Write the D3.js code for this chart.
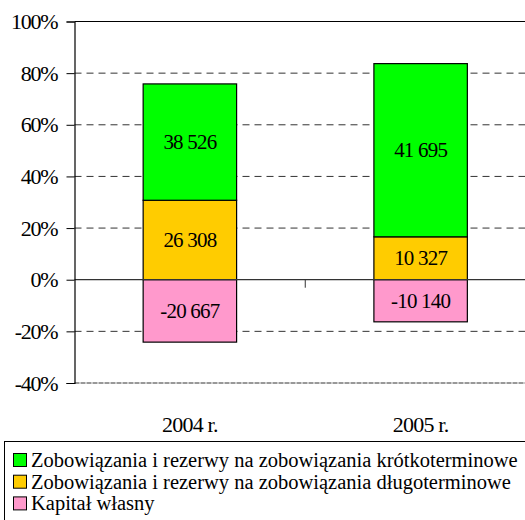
<!DOCTYPE html>
<html>
<head>
<meta charset="utf-8">
<script src="https://cdn.jsdelivr.net/npm/d3@7"></script>
</head>
<body style="margin:0">
<script>
const years = ['2004 r.', '2005 r.'];
const krotkoterminowe = [38526, 41695];
const dlugoterminowe = [26308, 10327];
const kapitalWlasny = [-20667, -10140];
const yTicks = [-40, -20, 0, 20, 40, 60, 80, 100];
const legendLabels = [
  'Zobowiązania i rezerwy na zobowiązania krótkoterminowe',
  'Zobowiązania i rezerwy na zobowiązania długoterminowe',
  'Kapitał własny'
];
const colors = ['#00ff00', '#ffcc00', '#ff99cc'];

const FONT = "'Liberation Serif', 'Times New Roman', serif";
const W = 525, H = 520;
const svg = d3.select('body').append('svg')
  .attr('width', W)
  .attr('height', H);

// percentage share of each part in the sum of absolute values
const rows = years.map((yr, i) => {
  const total = Math.abs(krotkoterminowe[i]) + Math.abs(dlugoterminowe[i]) + Math.abs(kapitalWlasny[i]);
  const d = dlugoterminowe[i] / total * 100;
  const k = krotkoterminowe[i] / total * 100;
  const c = kapitalWlasny[i] / total * 100;
  return {
    year: yr,
    parts: [
      { v: dlugoterminowe[i], y0: 0, y1: d, color: colors[1] },
      { v: krotkoterminowe[i], y0: d, y1: d + k, color: colors[0] },
      { v: kapitalWlasny[i], y0: c, y1: 0, color: colors[2] }
    ]
  };
});

const left = 74.5;
const x = d3.scaleBand().domain(years).range([left, 536]).padding(0);
const y = d3.scaleLinear().domain([-40, 100]).range([383, 21.5]);
const barW = x.bandwidth() * 0.405;

const fmt = d3.formatLocale({ decimal: ',', thousands: ' ', grouping: [3], currency: ['', ''], minus: '-' }).format(',d');

// gridlines
svg.append('g')
  .selectAll('line')
  .data(yTicks.filter(t => t !== 0 && t !== 100))
  .enter()
  .append('line')
  .attr('x1', left).attr('x2', W)
  .attr('y1', d => y(d)).attr('y2', d => y(d))
  .attr('stroke', '#333')
  .attr('stroke-width', 1)
  .attr('stroke-dasharray', d => d === -40 ? '5,1' : '7,5');

// top border
svg.append('line')
  .attr('x1', left).attr('x2', W)
  .attr('y1', y(100)).attr('y2', y(100))
  .attr('stroke', '#000');

// bars
const bars = svg.append('g')
  .selectAll('g')
  .data(rows)
  .enter()
  .append('g');

bars.selectAll('rect')
  .data(d => d.parts.map(p => Object.assign({ year: d.year }, p)))
  .enter()
  .append('rect')
  .attr('x', d => x(d.year) + x.bandwidth() / 2 - barW / 2)
  .attr('width', barW)
  .attr('y', d => y(d.y1))
  .attr('height', d => y(d.y0) - y(d.y1))
  .attr('fill', d => d.color)
  .attr('stroke', '#000')
  .attr('stroke-width', 1.2);

bars.selectAll('text')
  .data(d => d.parts.map(p => Object.assign({ year: d.year }, p)))
  .enter()
  .append('text')
  .attr('x', d => x(d.year) + x.bandwidth() / 2)
  .attr('y', d => (y(d.y0) + y(d.y1)) / 2)
  .attr('dy', '0.34em')
  .attr('text-anchor', 'middle')
  .attr('font-family', FONT)
  .attr('font-size', 21)
  .attr('letter-spacing', -0.8)
  .text(d => fmt(d.v));

// zero line with category tick
svg.append('line')
  .attr('x1', left).attr('x2', W)
  .attr('y1', y(0)).attr('y2', y(0))
  .attr('stroke', '#333')
  .attr('stroke-width', 1.2);
svg.append('line')
  .attr('x1', x(years[1])).attr('x2', x(years[1]))
  .attr('y1', y(0)).attr('y2', y(0) + 8)
  .attr('stroke', '#333');

// y axis
const yAxis = svg.append('g')
  .attr('transform', 'translate(' + left + ',0)')
  .call(d3.axisLeft(y).tickValues(yTicks).tickSize(8).tickPadding(9).tickFormat(d => d + '%'));
yAxis.select('.domain').attr('stroke', '#000').attr('stroke-width', 1.2);
yAxis.selectAll('.tick line').attr('stroke', '#000');
yAxis.selectAll('.tick text')
  .attr('font-family', FONT)
  .attr('font-size', 22)
  .attr('letter-spacing', -1.2)
  .attr('fill', '#000');

// x labels
svg.append('g')
  .selectAll('text')
  .data(years)
  .enter()
  .append('text')
  .attr('x', d => x(d) + x.bandwidth() / 2)
  .attr('y', 432)
  .attr('text-anchor', 'middle')
  .attr('font-family', FONT)
  .attr('font-size', 22)
  .attr('letter-spacing', -0.8)
  .text(d => d);

// legend
const legend = svg.append('g');
legend.append('rect')
  .attr('x', 4.5).attr('y', 441.5)
  .attr('width', 540).attr('height', 100)
  .attr('fill', 'none')
  .attr('stroke', '#000');

const item = legend.selectAll('.item')
  .data(legendLabels)
  .enter()
  .append('g')
  .attr('transform', (d, i) => 'translate(0,' + (453.5 + i * 21.7) + ')');
item.append('rect')
  .attr('x', 13.5).attr('y', 0)
  .attr('width', 13).attr('height', 13)
  .attr('fill', (d, i) => colors[i])
  .attr('stroke', '#000');
item.append('text')
  .attr('x', 31)
  .attr('y', 13.5)
  .attr('font-family', FONT)
  .attr('font-size', 20.5)
  .text(d => d);
</script>
</body>
</html>
